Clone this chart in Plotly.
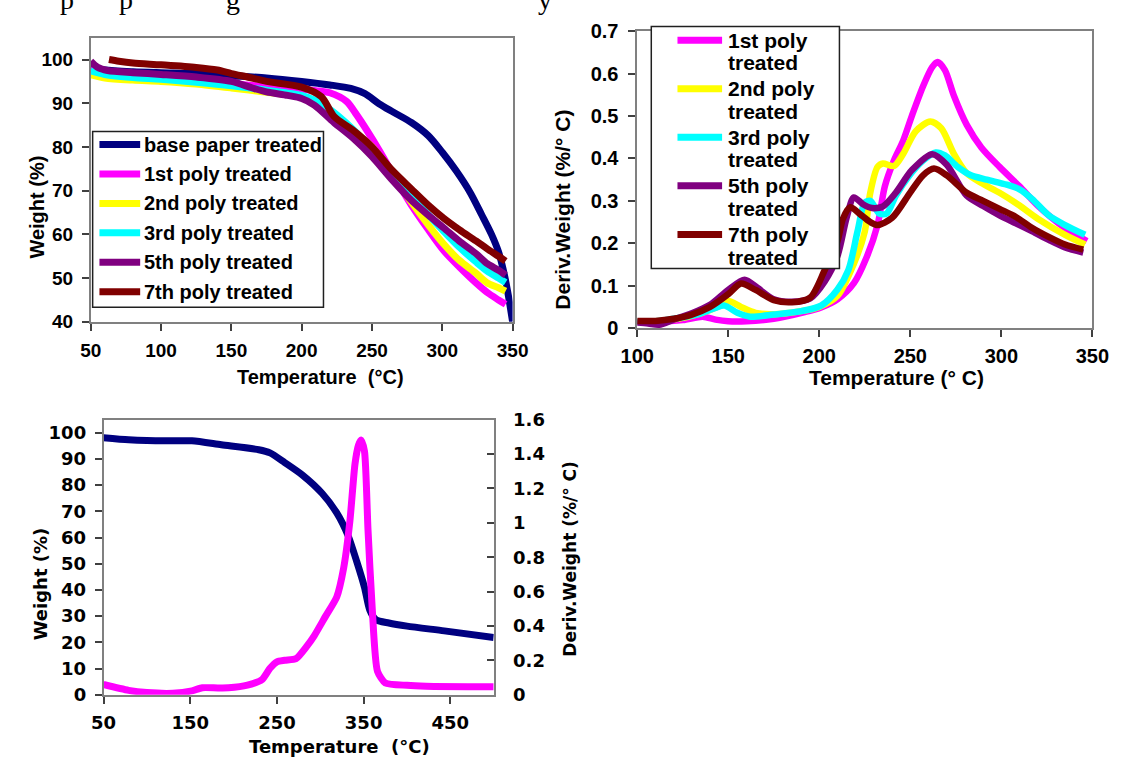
import plotly.graph_objects as go

# ---------------- data: top-left (TGA weight curves) ----------------
tl_base_T = [50, 60, 80, 100, 125, 150, 175, 200, 220, 235, 245, 255, 265, 278, 290, 300, 310, 320, 328, 335, 340, 344, 347, 350]
tl_base_W = [98.2, 97.6, 97.2, 97.0, 96.8, 96.3, 95.8, 95.0, 94.2, 93.4, 92.2, 89.9, 88.0, 85.6, 82.6, 78.8, 74.5, 69.5, 64.5, 60.0, 56.0, 51.0, 46.0, 40.0]

tl_p1_T = [50, 60, 80, 100, 125, 150, 175, 200, 210, 220, 232, 239, 246, 255, 267, 278, 290, 301, 312, 324, 332, 340, 345]
tl_p1_W = [97.8, 97.0, 96.3, 95.8, 95.2, 94.5, 93.8, 93.2, 92.9, 92.4, 90.4, 87.4, 84.0, 79.3, 72.6, 66.7, 61.1, 56.3, 52.6, 48.9, 46.7, 45.0, 44.0]

tl_p2_T = [50, 60, 80, 100, 125, 150, 175, 200, 210, 220, 235, 250, 265, 278, 290, 301, 312, 324, 332, 340, 345]
tl_p2_W = [96.5, 95.8, 95.3, 95.0, 94.4, 93.5, 92.5, 91.5, 90.3, 88.3, 84.2, 80.0, 73.5, 67.4, 62.2, 57.8, 54.1, 51.1, 48.9, 47.8, 47.0]

tl_p3_T = [50, 60, 80, 100, 125, 150, 175, 200, 210, 220, 235, 250, 265, 278, 290, 301, 312, 324, 332, 340, 345]
tl_p3_W = [97.4, 96.6, 95.9, 95.5, 94.8, 94.0, 93.0, 91.8, 90.6, 88.6, 84.5, 79.5, 73.8, 68.8, 64.5, 60.7, 57.1, 53.7, 51.6, 50.0, 49.0]

tl_p5_T = [50, 55, 62, 80, 100, 125, 150, 165, 175, 190, 200, 209, 223, 237, 250, 264, 278, 290, 301, 312, 324, 332, 340, 345]
tl_p5_W = [99.6, 98.2, 97.5, 97.0, 96.6, 96.0, 95.0, 93.5, 92.6, 91.8, 91.1, 89.6, 85.6, 81.9, 77.8, 72.6, 67.8, 64.4, 61.5, 58.5, 55.6, 53.3, 51.8, 50.7]

tl_p7_T = [63, 70, 80, 100, 125, 140, 150, 163, 175, 200, 214, 223, 237, 250, 264, 278, 290, 301, 312, 324, 332, 340, 345]
tl_p7_W = [100.0, 99.6, 99.2, 98.8, 98.2, 97.6, 96.8, 95.9, 95.0, 93.7, 91.5, 87.0, 83.7, 80.0, 74.8, 70.4, 66.7, 63.7, 61.1, 58.5, 56.7, 55.0, 53.9]

tl_names = ["base paper treated", "1st poly treated", "2nd poly treated",
            "3rd poly treated", "5th poly treated", "7th poly treated"]

# ---------------- data: top-right (derivative curves) ----------------
tr_p1_T = [100, 110, 125, 136, 143, 150, 160, 175, 192, 201, 210, 219, 226, 232, 236, 241, 246, 251, 257, 262, 265, 269, 274, 281, 289, 299, 310, 320, 335, 347]
tr_p1_D = [0.015, 0.015, 0.019, 0.027, 0.020, 0.016, 0.016, 0.022, 0.038, 0.049, 0.068, 0.106, 0.167, 0.243, 0.334, 0.395, 0.441, 0.502, 0.570, 0.615, 0.627, 0.608, 0.547, 0.479, 0.426, 0.380, 0.334, 0.289, 0.236, 0.205]

tr_p2_T = [100, 110, 120, 135, 145, 150, 157, 165, 175, 190, 200, 210, 219, 225, 228, 232, 235, 241, 246, 253, 261, 267, 274, 281, 289, 299, 310, 320, 335, 346]
tr_p2_D = [0.015, 0.016, 0.020, 0.035, 0.052, 0.064, 0.050, 0.036, 0.033, 0.040, 0.050, 0.076, 0.152, 0.228, 0.319, 0.380, 0.388, 0.382, 0.410, 0.464, 0.487, 0.471, 0.410, 0.365, 0.342, 0.319, 0.289, 0.258, 0.220, 0.197]

tr_p3_T = [100, 110, 120, 135, 143, 148, 155, 162, 175, 190, 201, 210, 216, 221, 225, 228, 233, 237, 242, 249, 257, 264, 269, 276, 283, 292, 303, 310, 317, 326, 335, 346]
tr_p3_D = [0.015, 0.016, 0.022, 0.035, 0.048, 0.053, 0.036, 0.027, 0.032, 0.040, 0.053, 0.091, 0.137, 0.228, 0.296, 0.300, 0.270, 0.270, 0.312, 0.357, 0.395, 0.414, 0.407, 0.380, 0.361, 0.350, 0.338, 0.327, 0.304, 0.266, 0.243, 0.220]

tr_p5_T = [100, 106, 112, 120, 130, 140, 150, 159, 166, 175, 185, 195, 203, 210, 215, 219, 224, 229, 235, 242, 251, 262, 270, 281, 290, 299, 308, 317, 326, 335, 345]
tr_p5_D = [0.013, 0.011, 0.008, 0.020, 0.035, 0.055, 0.090, 0.114, 0.095, 0.068, 0.062, 0.070, 0.110, 0.170, 0.260, 0.308, 0.292, 0.283, 0.287, 0.319, 0.373, 0.410, 0.385, 0.312, 0.288, 0.266, 0.247, 0.228, 0.208, 0.190, 0.178]

tr_p7_T = [100, 110, 120, 130, 140, 150, 157, 165, 175, 185, 195, 203, 210, 213, 217, 222, 228, 232, 240, 250, 257, 263, 270, 281, 290, 299, 308, 317, 326, 335, 345]
tr_p7_D = [0.017, 0.017, 0.022, 0.032, 0.050, 0.080, 0.105, 0.090, 0.066, 0.061, 0.072, 0.137, 0.205, 0.258, 0.285, 0.270, 0.250, 0.243, 0.260, 0.320, 0.360, 0.376, 0.360, 0.319, 0.300, 0.281, 0.262, 0.236, 0.215, 0.197, 0.185]

tr_names = ["1st poly treated", "2nd poly treated", "3rd poly treated",
            "5th poly treated", "7th poly treated"]

# ---------------- data: bottom (single sample, weight + derivative) ----------------
b_w_T = [50, 79, 100, 125, 152, 186, 229, 242, 259, 280, 302, 319, 332, 342, 351, 357, 364, 379, 400, 443, 500]
b_w_W = [98.1, 97.3, 97.0, 96.9, 96.9, 95.4, 93.5, 92.3, 88.6, 83.7, 76.9, 69.4, 60.8, 50.9, 41.0, 32.4, 28.7, 27.4, 26.2, 24.4, 21.9]

b_d_T = [50, 79, 100, 130, 152, 164, 182, 194, 216, 233, 242, 250, 259, 272, 285, 293, 306, 319, 327, 334, 340, 344, 347, 351, 355, 360, 366, 375, 400, 422, 500]
b_d_D = [0.060, 0.026, 0.013, 0.009, 0.023, 0.041, 0.040, 0.041, 0.056, 0.089, 0.154, 0.192, 0.201, 0.210, 0.286, 0.343, 0.456, 0.569, 0.738, 1.002, 1.341, 1.450, 1.482, 1.416, 0.964, 0.493, 0.136, 0.069, 0.055, 0.050, 0.047]

# ---------------- style ----------------
W, H = 1128, 767
NAVY, MAG, YEL, CYA, PUR, MAR = "#000080", "#FF00FF", "#FFFF00", "#00FFFF", "#800080", "#800000"
FAM = "Liberation Sans, Arial, sans-serif"
WIDE = "DejaVu Sans, Verdana, sans-serif"
LW = 7


def px(x):
    return x / W


def py(y):
    return 1 - y / H


def bold(size, fam=FAM):
    return dict(family=fam, size=size, color="black", weight="bold")


fig = go.Figure()

tl_colors = [NAVY, MAG, YEL, CYA, PUR, MAR]
tl_series = [(tl_base_T, tl_base_W), (tl_p1_T, tl_p1_W), (tl_p2_T, tl_p2_W),
             (tl_p3_T, tl_p3_W), (tl_p5_T, tl_p5_W), (tl_p7_T, tl_p7_W)]
for (t, w), c, nm in zip(tl_series, tl_colors, tl_names):
    fig.add_trace(go.Scatter(x=t, y=w, mode="lines", name=nm, showlegend=False,
                             line=dict(color=c, width=LW, shape="spline", smoothing=0.8),
                             xaxis="x", yaxis="y"))

tr_colors = [MAG, YEL, CYA, PUR, MAR]
tr_series = [(tr_p1_T, tr_p1_D), (tr_p2_T, tr_p2_D), (tr_p3_T, tr_p3_D),
             (tr_p5_T, tr_p5_D), (tr_p7_T, tr_p7_D)]
for (t, d), c, nm in zip(tr_series, tr_colors, tr_names):
    fig.add_trace(go.Scatter(x=t, y=d, mode="lines", name=nm, showlegend=False,
                             line=dict(color=c, width=LW - 0.5, shape="spline", smoothing=0.8),
                             xaxis="x2", yaxis="y2"))

fig.add_trace(go.Scatter(x=b_w_T, y=b_w_W, mode="lines", showlegend=False,
                         line=dict(color=NAVY, width=LW, shape="spline", smoothing=0.7),
                         xaxis="x3", yaxis="y3"))
fig.add_trace(go.Scatter(x=b_d_T, y=b_d_D, mode="lines", showlegend=False,
                         line=dict(color=MAG, width=LW, shape="spline", smoothing=0.6),
                         xaxis="x3", yaxis="y4"))


def ax(font, standoff, **kw):
    d = dict(showline=True, linecolor="#808080", linewidth=1.5, showgrid=False, zeroline=False,
             ticks="outside", ticklen=7, tickwidth=1.5, tickcolor="#404040",
             tickfont=font, ticklabelstandoff=standoff)
    d.update(kw)
    return d


fig.update_layout(
    width=W, height=H, autosize=False,
    margin=dict(l=0, r=0, t=0, b=0),
    paper_bgcolor="white", plot_bgcolor="white",
    showlegend=False,
    xaxis=ax(bold(19), 4, domain=[px(76), px(511)], range=[50, 350], tick0=50, dtick=50, anchor="y", mirror=True),
    yaxis=ax(bold(19), 5, domain=[py(320), py(27.5)], range=[40, 105], tick0=40, dtick=10, anchor="x", mirror=True),
    xaxis2=ax(bold(20), 2, domain=[px(639.5), px(1108.8)], range=[100, 350], tick0=100, dtick=50, anchor="y2", mirror=True),
    yaxis2=ax(bold(20), 6, domain=[py(326.5), py(20.7)], range=[0, 0.7], tick0=0, dtick=0.1, anchor="x2", mirror=True),
    xaxis3=ax(bold(18, WIDE), 4, domain=[px(89.2), px(491.5)], range=[50, 500], tick0=50, dtick=100, anchor="y3", mirror=True),
    yaxis3=ax(bold(18, WIDE), 5, domain=[py(704), py(420.7)], range=[0, 105], tick0=0, dtick=10, anchor="x3", mirror=True),
    yaxis4=ax(bold(18, WIDE), 14, range=[0, 1.6], tick0=0, dtick=0.2, anchor="x3", overlaying="y3", side="right",
              ticks="inside"),
)

# ---------------- axis titles ----------------
ann = [
    dict(text="Weight (%)", x=px(21), y=py(202), textangle=-90, font=bold(20)),
    dict(text="Temperature\u00a0 (°C)", x=px(313), y=py(377), textangle=0, font=bold(20)),
    dict(text="Deriv.Weight (%/° C)", x=px(562.5), y=py(205), textangle=-90, font=bold(21)),
    dict(text="Temperature (° C)", x=px(907), y=py(377), textangle=0, font=bold(21)),
    dict(text="Weight (%)", x=px(24), y=py(590), textangle=-90, font=bold(18, WIDE)),
    dict(text="Temperature\u00a0 (°C)", x=px(333), y=py(757), textangle=0, font=bold(18, WIDE)),
    dict(text="Deriv.Weight (%/° C)", x=px(570), y=py(564), textangle=-90, font=bold(17, WIDE)),
]
for a in ann:
    fig.add_annotation(xref="paper", yref="paper", xanchor="center", yanchor="middle",
                       showarrow=False, **a)

# ---------------- legends (boxed, Excel style) ----------------
shapes = []
# top-left legend
shapes.append(dict(type="rect", xref="paper", yref="paper", x0=px(78), x1=px(316), y0=py(305), y1=py(124),
                   line=dict(color="#202020", width=1.5), fillcolor="white", layer="above"))
for i, (c, nm) in enumerate(zip(tl_colors, tl_names)):
    yc = 137.5 + 30.3 * i
    shapes.append(dict(type="line", xref="paper", yref="paper", x0=px(85), x1=px(127), y0=py(yc), y1=py(yc),
                       line=dict(color=c, width=7), layer="above"))
    fig.add_annotation(text=nm, xref="paper", yref="paper", x=px(129), y=py(yc), xanchor="left",
                       yanchor="middle", showarrow=False, font=bold(20))
# top-right legend
shapes.append(dict(type="rect", xref="paper", yref="paper", x0=px(654), x1=px(848), y0=py(265), y1=py(16),
                   line=dict(color="#202020", width=1.5), fillcolor="white", layer="above"))
for i, (c, nm) in enumerate(zip(tr_colors, tr_names)):
    yc = 30 + 50 * i
    first, second = nm.rsplit(" ", 1)
    shapes.append(dict(type="line", xref="paper", yref="paper", x0=px(681), x1=px(727), y0=py(yc), y1=py(yc),
                       line=dict(color=c, width=7), layer="above"))
    fig.add_annotation(text=first, xref="paper", yref="paper", x=px(731), y=py(yc), xanchor="left",
                       yanchor="middle", showarrow=False, font=bold(21))
    fig.add_annotation(text=second, xref="paper", yref="paper", x=px(731), y=py(yc + 23.3), xanchor="left",
                       yanchor="middle", showarrow=False, font=bold(21))
fig.update_layout(shapes=shapes)

# clipped fragment of the document line above the figures
for ch, xx in [("p", 52), ("p", 112), ("g", 223), ("y", 544)]:
    fig.add_annotation(text=ch, xref="paper", yref="paper", x=px(xx), y=py(6), xanchor="center",
                       yanchor="bottom", showarrow=False,
                       font=dict(family="Liberation Serif, Times New Roman, serif", size=28, color="black"))

fig.write_html("out.html", config={"displayModeBar": False},
               post_script="document.body.style.margin='0';document.body.style.padding='0';")
